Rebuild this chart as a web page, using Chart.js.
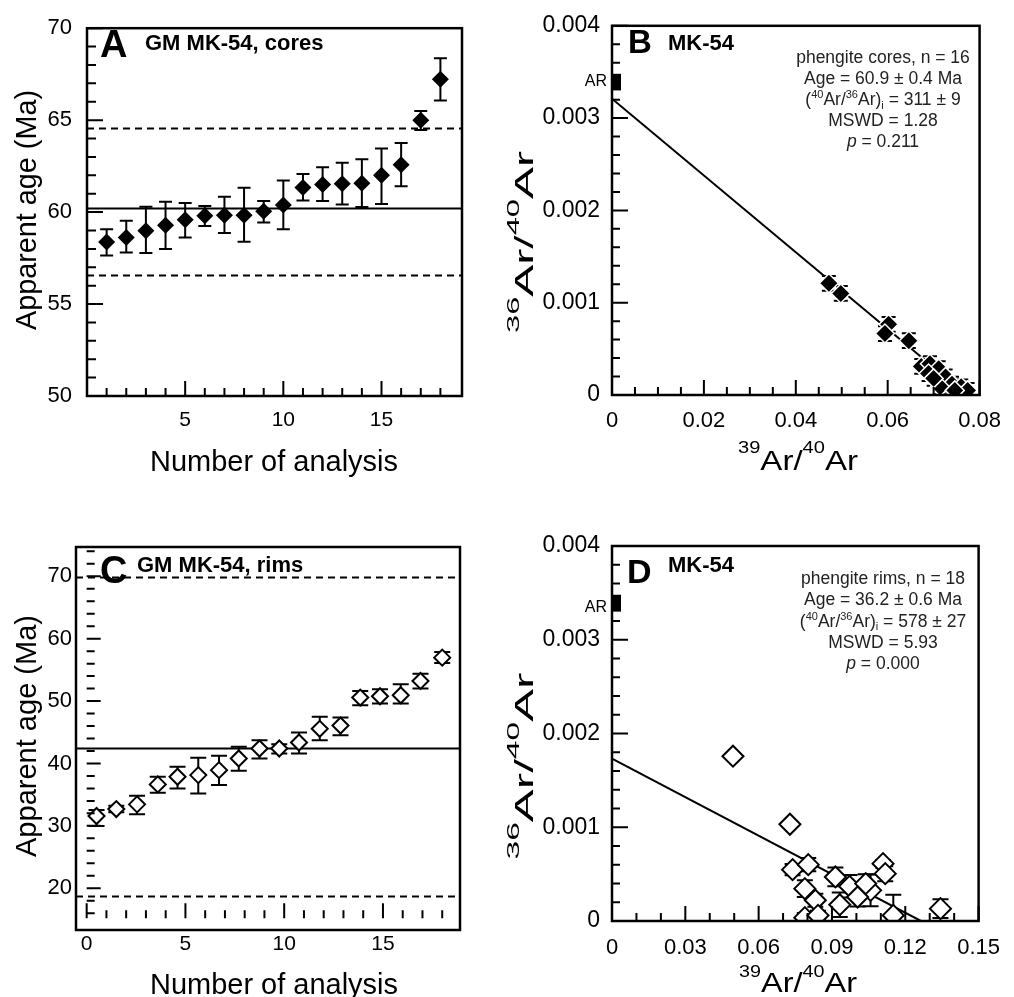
<!DOCTYPE html>
<html>
<head>
<meta charset="utf-8">
<title>MK-54 phengite 40Ar/39Ar</title>
<script src="https://cdn.jsdelivr.net/npm/chart.js@4.4.1/dist/chart.umd.min.js"></script>
<style>
  html, body { margin: 0; padding: 0; background: #fff; }
  canvas { position: absolute; }
</style>
</head>
<body>
<canvas id="chartA" width="507" height="498" style="left:0;top:0"></canvas>
<canvas id="chartB" width="507" height="498" style="left:507px;top:0"></canvas>
<canvas id="chartC" width="507" height="499" style="left:0;top:498px"></canvas>
<canvas id="chartD" width="507" height="499" style="left:507px;top:498px"></canvas>
<script>
const FONT = "'Liberation Sans', Arial, Helvetica, sans-serif";

// A - phengite cores, apparent age of each analysis (Ma)
const coreNo    = [1, 2, 3, 4, 5, 6, 7, 8, 9, 10, 11, 12, 13, 14, 15, 16, 17, 18];
const coreAge   = [58.37, 58.62, 58.98, 59.28, 59.58, 59.80, 59.83, 59.83, 60.04, 60.38, 61.34, 61.50, 61.54, 61.57, 62.00, 62.57, 65.00, 67.23];
const coreAgeHi = [59.07, 59.53, 60.29, 60.56, 60.49, 60.33, 60.83, 61.32, 60.60, 61.72, 62.07, 62.44, 62.68, 62.87, 63.46, 63.76, 65.50, 68.36];
const coreAgeLo = [57.64, 57.80, 57.77, 58.00, 58.62, 59.24, 58.87, 58.39, 59.44, 59.07, 60.63, 60.60, 60.42, 60.28, 60.44, 61.41, 64.47, 66.07];
const coreMean  = 60.2;
const coreBounds = [56.55, 64.55];

// B - phengite cores, inverse isochron
const coreX    = [0.0472, 0.0498, 0.0602, 0.0594, 0.0646, 0.0673, 0.0692, 0.0711, 0.0689, 0.0726, 0.0740, 0.0714, 0.0760, 0.0774, 0.0746, 0.0700];
const coreY    = [0.00121, 0.00110, 0.000766, 0.000666, 0.000588, 0.000310, 0.000339, 0.000285, 0.000232, 0.000196, 0.000118, 0.000089, 0.000089, 0.00005, 0.00005, 0.00018];
const coreYErr = [0.00008, 0.00008, 0.00008, 0.00008, 0.00008, 0.00008, 0.00008, 0.00008, 0.00008, 0.00008, 0.00008, 0.00008, 0.00008, 0.00008, 0.00008, 0.00008];
const coreFitX = [0, 0.0772];
const coreFitY = [0.00321, 0];

// C - phengite rims, apparent age of each analysis (Ma)
const rimNo    = [0.5, 1.5, 2.55, 3.6, 4.6, 5.65, 6.7, 7.7, 8.75, 9.75, 10.75, 11.8, 12.85, 13.85, 14.85, 15.9, 16.9, 18.0];
const rimAge   = [31.57, 32.69, 33.44, 36.64, 37.87, 38.13, 38.93, 40.80, 42.40, 42.40, 43.36, 45.55, 46.08, 50.56, 50.77, 50.93, 53.23, 56.96];
const rimAgeHi = [32.53, 33.23, 34.83, 37.87, 39.47, 40.91, 41.23, 42.67, 43.73, 43.09, 44.96, 47.47, 47.36, 51.63, 51.89, 52.69, 54.40, 57.87];
const rimAgeLo = [29.97, 32.16, 31.84, 35.31, 36.00, 35.20, 36.53, 38.83, 40.80, 41.60, 41.60, 43.73, 44.53, 49.33, 49.60, 49.60, 52.00, 56.11];
const rimMean  = 42.4;
const rimBounds = [18.67, 69.8];

// D - phengite rims, inverse isochron
const rimX    = [0.0495, 0.0728, 0.0739, 0.0803, 0.0789, 0.0832, 0.0789, 0.0843, 0.0914, 0.0932, 0.0972, 0.1058, 0.1109, 0.1118, 0.1151, 0.1344, 0.1038, 0.1005];
const rimY    = [0.001758, 0.001032, 0.000548, 0.000601, 0.000345, 0.000221, 0.000036, 0.00006, 0.00047, 0.000174, 0.00037, 0.000327, 0.000612, 0.000505, 0.00006, 0.000132, 0.000399, 0.000256];
const rimYErr = [0.00003, 0.00003, 0.00006, 0.00007, 0.00009, 0.00007, 0.00005, 0.00005, 0.0001, 0.00013, 0.00012, 0.00017, 0.00004, 0.00008, 0.00022, 0.0001, 0.0001, 0.0001];
const rimFitX = [0, 0.1264];
const rimFitY = [0.001733, 0];

// atmospheric ratio marker (AR) on the isochron y axis
const atmBand = [0.0033, 0.00348];

// tick labels
const ageXTicksA = [5, 10, 15];
const ageYTicksA = [50, 55, 60, 65, 70];
const ageXTicksC = [0, 5, 10, 15];
const ageYTicksC = [20, 30, 40, 50, 60, 70];
const isoXTicksB = [0, 0.02, 0.04, 0.06, 0.08];
const isoXTicksD = [0, 0.03, 0.06, 0.09, 0.12, 0.15];
const isoYTicks  = [0, 0.001, 0.002, 0.003, 0.004];

function steps(from, to, step) {
  const out = [];
  const n = Math.round((to - from) / step);
  for (let i = 0; i <= n; i++) out.push(+(from + i * step).toFixed(6));
  return out;
}
function tickList(minor, major, minorLen, majorLen) {
  return minor.map(v => [v, major.some(m => Math.abs(m - v) < 1e-9) ? majorLen : minorLen]);
}
function pts(xs, ys) { return xs.map((x, i) => ({ x: x, y: ys[i] })); }

function drawRich(ctx, it) {
  const size = it.size;
  const parts = typeof it.parts === 'string' ? [{ t: it.parts }] : it.parts;
  const small = it.supSize || Math.round(size * 0.62);
  const fontOf = p => (p.italic ? 'italic ' : '') + (it.bold ? 'bold ' : '') +
    ((p.sup || p.sub) ? small : size) + 'px ' + FONT;
  let w = 0;
  parts.forEach(p => { ctx.font = fontOf(p); p.w = ctx.measureText(p.t).width; w += p.w; });
  const sx = it.fitW ? it.fitW / w : 1;
  ctx.save();
  ctx.translate(it.x, it.y);
  if (it.rotate) ctx.rotate(-Math.PI / 2);
  ctx.scale(sx, 1);
  let x = it.align === 'left' ? 0 : it.align === 'right' ? -w : -w / 2;
  ctx.fillStyle = it.color || '#000';
  ctx.textAlign = 'left';
  ctx.textBaseline = 'alphabetic';
  parts.forEach(p => {
    ctx.font = fontOf(p);
    const dy = p.sup ? -size * (it.raise || 0.42) : p.sub ? size * 0.2 : 0;
    ctx.fillText(p.t, x, dy);
    x += p.w;
  });
  ctx.restore();
}

const decor = {
  id: 'decor',
  beforeDatasetsDraw(chart, args, o) {
    const ctx = chart.ctx, a = chart.chartArea;
    const xs = chart.scales.x, ys = chart.scales.y;
    ctx.save();
    ctx.beginPath();
    ctx.rect(a.left, a.top, a.right - a.left, a.bottom - a.top);
    ctx.clip();
    ctx.strokeStyle = '#000';
    ctx.lineWidth = 2;
    chart.data.datasets.forEach(ds => {
      if (!ds.errLo) return;
      const c = ds.capHalf;
      ds.data.forEach((p, i) => {
        const x = xs.getPixelForValue(p.x);
        const y0 = ys.getPixelForValue(ds.errLo[i]);
        const y1 = ys.getPixelForValue(ds.errHi[i]);
        ctx.beginPath();
        ctx.moveTo(x, y0); ctx.lineTo(x, y1);
        ctx.moveTo(x - c, y0); ctx.lineTo(x + c, y0);
        ctx.moveTo(x - c, y1); ctx.lineTo(x + c, y1);
        ctx.stroke();
      });
    });
    ctx.restore();
  },
  afterDraw(chart, args, o) {
    const ctx = chart.ctx, a = chart.chartArea;
    const xs = chart.scales.x, ys = chart.scales.y;
    ctx.save();
    ctx.strokeStyle = '#000';
    // inward tick marks
    ctx.lineWidth = 2;
    ctx.beginPath();
    const by = o.marks.x.at == null ? a.bottom : ys.getPixelForValue(o.marks.x.at);
    o.marks.x.list.forEach(([v, len]) => {
      const px = xs.getPixelForValue(v);
      ctx.moveTo(px, by); ctx.lineTo(px, by - len);
    });
    const bx = o.marks.y.at == null ? a.left : xs.getPixelForValue(o.marks.y.at);
    o.marks.y.list.forEach(([v, len]) => {
      const py = ys.getPixelForValue(v);
      ctx.moveTo(bx, py); ctx.lineTo(bx + len, py);
    });
    ctx.stroke();
    // frame
    ctx.lineWidth = 2.5;
    ctx.strokeRect(a.left, a.top, a.right - a.left, a.bottom - a.top);
    // atmospheric ratio box
    if (o.ar) {
      const y0 = ys.getPixelForValue(o.ar.band[0]);
      const y1 = ys.getPixelForValue(o.ar.band[1]);
      ctx.fillStyle = '#000';
      ctx.fillRect(a.left, y1, o.ar.w, y0 - y1);
    }
    (o.texts || []).forEach(t => drawRich(ctx, t));
    ctx.restore();
  }
};
Chart.register(decor);

function options(p) {
  return {
    responsive: false,
    animation: false,
    events: [],
    layout: { padding: { left: 0, top: p.top, right: p.right, bottom: 0 } },
    plugins: { legend: { display: false }, tooltip: { enabled: false }, decor: p.decor },
    scales: {
      x: {
        type: 'linear', min: p.x.min, max: p.x.max,
        grid: { display: false, drawTicks: false }, border: { display: false },
        afterFit: s => { s.height = p.x.size; },
        afterBuildTicks: s => { s.ticks = p.x.labels.map(v => ({ value: v })); },
        ticks: { padding: p.x.pad, color: '#000', autoSkip: false, maxRotation: 0,
                 font: { family: FONT, size: p.x.font }, callback: v => String(v) }
      },
      y: {
        type: 'linear', min: p.y.min, max: p.y.max,
        grid: { display: false, drawTicks: false }, border: { display: false },
        afterFit: s => { s.width = p.y.size; },
        afterBuildTicks: s => { s.ticks = p.y.labels.map(v => ({ value: v })); },
        ticks: { padding: p.y.pad, color: '#000', autoSkip: false,
                 font: { family: FONT, size: p.y.font }, callback: v => String(v) }
      }
    }
  };
}

function hline(y, x0, x1, dash) {
  return { type: 'line', data: [{ x: x0, y: y }, { x: x1, y: y }], borderColor: '#000', borderWidth: 2,
           borderDash: dash || [], pointRadius: 0, fill: false, order: 2 };
}

function statLines(x, y0, step, rows) {
  return rows.map((parts, i) => ({ parts: parts, x: x, y: y0 + i * step, size: 17.5, color: '#222', raise: 0.4, supSize: 11 }));
}

// ---------- A
new Chart(document.getElementById('chartA'), {
  type: 'scatter',
  data: { datasets: [
    { data: pts(coreNo, coreAge), errLo: coreAgeLo, errHi: coreAgeHi, capHalf: 6.5,
      pointStyle: 'rectRot', pointRadius: 8.5, backgroundColor: '#000', borderColor: '#000', borderWidth: 0, order: 1 },
    hline(coreMean, 0, 19.1),
    hline(coreBounds[0], 0, 19.1, [7, 5]),
    hline(coreBounds[1], 0, 19.1, [7, 5])
  ] },
  options: options({
    top: 21, right: 45,
    x: { min: 0, max: 19.1, size: 102, pad: 12, font: 21, labels: ageXTicksA },
    y: { min: 50, max: 70, size: 87, pad: 15, font: 22, labels: ageYTicksA },
    decor: {
      marks: {
        x: { at: null, list: tickList(steps(1, 18, 1), ageXTicksA, 8, 15) },
        y: { at: null, list: tickList(steps(50, 70, 1), ageYTicksA, 9, 16) }
      },
      texts: [
        { parts: 'A', x: 100, y: 57, size: 38, bold: true, align: 'left' },
        { parts: 'GM MK-54, cores', x: 145, y: 50, size: 22, bold: true, align: 'left' },
        { parts: 'Number of analysis', x: 274, y: 471, size: 29, fitW: 248 },
        { parts: 'Apparent age (Ma)', x: 36, y: 210, size: 29, rotate: true, fitW: 240 }
      ]
    }
  })
});

// ---------- B
new Chart(document.getElementById('chartB'), {
  type: 'scatter',
  data: { datasets: [
    { data: pts(coreX, coreY), errLo: coreY.map((v, i) => v - coreYErr[i]), errHi: coreY.map((v, i) => v + coreYErr[i]), capHalf: 7,
      pointStyle: 'rectRot', pointRadius: 9.5, backgroundColor: '#000', borderColor: '#fff', borderWidth: 1.5, order: 1 },
    { type: 'line', data: pts(coreFitX, coreFitY), borderColor: '#000', borderWidth: 2, pointRadius: 0, fill: false, order: 2 }
  ] },
  options: options({
    top: 21, right: 27,
    x: { min: 0, max: 0.08, size: 103, pad: 13, font: 22, labels: isoXTicksB },
    y: { min: 0, max: 0.004, size: 105, pad: 12, font: 23, labels: isoYTicks },
    decor: {
      marks: {
        x: { at: null, list: tickList(steps(0, 0.08, 0.005), isoXTicksB, 8, 15) },
        y: { at: null, list: tickList(steps(0, 0.004, 0.0002), isoYTicks, 8, 16) }
      },
      ar: { band: atmBand, w: 9 },
      texts: [
        { parts: 'B', x: 121, y: 53, size: 33, bold: true, align: 'left' },
        { parts: 'MK-54', x: 161, y: 50, size: 22, bold: true, align: 'left' },
        { parts: 'AR', x: 100, y: 86, size: 16, align: 'right' },
        ...statLines(376, 63, 21, [
          [{ t: 'phengite cores, n = 16' }],
          [{ t: 'Age = 60.9 \u00b1 0.4 Ma' }],
          [{ t: '(' }, { t: '40', sup: 1 }, { t: 'Ar/' }, { t: '36', sup: 1 }, { t: 'Ar)' }, { t: 'i', sub: 1 }, { t: ' = 311 \u00b1 9' }],
          [{ t: 'MSWD = 1.28' }],
          [{ t: 'p', italic: 1 }, { t: ' = 0.211' }]
        ]),
        { parts: [{ t: '39', sup: 1 }, { t: 'Ar/' }, { t: '40', sup: 1 }, { t: 'Ar' }], x: 291, y: 470, size: 28, supSize: 17, raise: 0.62, fitW: 120 },
        { parts: [{ t: '36', sup: 1 }, { t: 'Ar/' }, { t: '40', sup: 1 }, { t: 'Ar' }], x: 26, y: 242, size: 25, supSize: 17, raise: 0.55, rotate: true, fitW: 182 }
      ]
    }
  })
});

// ---------- C
new Chart(document.getElementById('chartC'), {
  type: 'scatter',
  data: { datasets: [
    { data: pts(rimNo, rimAge), errLo: rimAgeLo, errHi: rimAgeHi, capHalf: 8,
      pointStyle: 'rectRot', pointRadius: 8, backgroundColor: '#fff', borderColor: '#000', borderWidth: 2, order: 1 },
    hline(rimMean, -0.54, 18.9),
    hline(rimBounds[0], -0.54, 18.9, [7, 5]),
    hline(rimBounds[1], -0.54, 18.9, [7, 5])
  ] },
  options: options({
    top: 49, right: 47,
    x: { min: -0.54, max: 18.9, size: 67, pad: 2, font: 21, labels: ageXTicksC },
    y: { min: 13.3, max: 74.7, size: 76, pad: 4, font: 22, labels: ageYTicksC },
    decor: {
      marks: {
        x: { at: 15.2, list: tickList(steps(0, 18, 1), ageXTicksC, 8, 15) },
        y: { at: 0, list: tickList(steps(16, 74, 2), ageYTicksC, 8, 14) }
      },
      texts: [
        { parts: 'C', x: 100, y: 85, size: 38, bold: true, align: 'left' },
        { parts: 'GM MK-54, rims', x: 137, y: 74, size: 22, bold: true, align: 'left' },
        { parts: 'Number of analysis', x: 274, y: 496, size: 29, fitW: 248 },
        { parts: 'Apparent age (Ma)', x: 36, y: 238, size: 29, rotate: true, fitW: 242 }
      ]
    }
  })
});

// ---------- D
new Chart(document.getElementById('chartD'), {
  type: 'scatter',
  data: { datasets: [
    { data: pts(rimX, rimY), errLo: rimY.map((v, i) => v - rimYErr[i]), errHi: rimY.map((v, i) => v + rimYErr[i]), capHalf: 8,
      pointStyle: 'rectRot', pointRadius: 10.5, backgroundColor: '#fff', borderColor: '#000', borderWidth: 2, order: 1 },
    { type: 'line', data: pts(rimFitX, rimFitY), borderColor: '#000', borderWidth: 2, pointRadius: 0, fill: false, order: 2 }
  ] },
  options: options({
    top: 48, right: 27,
    x: { min: 0, max: 0.15, size: 76, pad: 14, font: 22, labels: isoXTicksD },
    y: { min: 0, max: 0.004, size: 105, pad: 12, font: 23, labels: isoYTicks },
    decor: {
      marks: {
        x: { at: null, list: tickList(steps(0, 0.15, 0.01), isoXTicksD, 8, 15) },
        y: { at: null, list: tickList(steps(0, 0.004, 0.0002), isoYTicks, 8, 16) }
      },
      ar: { band: atmBand, w: 9 },
      texts: [
        { parts: 'D', x: 120, y: 85, size: 34, bold: true, align: 'left' },
        { parts: 'MK-54', x: 161, y: 74, size: 22, bold: true, align: 'left' },
        { parts: 'AR', x: 100, y: 114, size: 16, align: 'right' },
        ...statLines(376, 86, 21.3, [
          [{ t: 'phengite rims, n = 18' }],
          [{ t: 'Age = 36.2 \u00b1 0.6 Ma' }],
          [{ t: '(' }, { t: '40', sup: 1 }, { t: 'Ar/' }, { t: '36', sup: 1 }, { t: 'Ar)' }, { t: 'i', sub: 1 }, { t: ' = 578 \u00b1 27' }],
          [{ t: 'MSWD = 5.93' }],
          [{ t: 'p', italic: 1 }, { t: ' = 0.000' }]
        ]),
        { parts: [{ t: '39', sup: 1 }, { t: 'Ar/' }, { t: '40', sup: 1 }, { t: 'Ar' }], x: 291, y: 494, size: 28, supSize: 17, raise: 0.55, fitW: 118 },
        { parts: [{ t: '36', sup: 1 }, { t: 'Ar/' }, { t: '40', sup: 1 }, { t: 'Ar' }], x: 26, y: 268, size: 25, supSize: 17, raise: 0.55, rotate: true, fitW: 187 }
      ]
    }
  })
});
</script>
</body>
</html>
